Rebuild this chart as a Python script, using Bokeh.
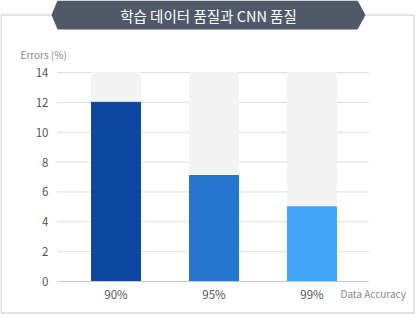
from bokeh.plotting import figure
from bokeh.models import Range1d
from bokeh.core.properties import value
from bokeh.embed import file_html
from bokeh.resources import INLINE

title_text = "학습 데이터 품질과 CNN 품질"
y_axis_title = "Errors (%)"
x_axis_title = "Data Accuracy"
categories = ["90%", "95%", "99%"]
errors = [12, 7.1, 5]
y_max = 14
y_ticks = [0, 2, 4, 6, 8, 10, 12, 14]
bar_colors = ["#0d47a1", "#2576cf", "#42a5f5"]

W, H = 415, 314
FONT = "Noto Sans CJK KR"

# plot area in canvas pixels
PL, PR, PT, PB = 57, 368, 72, 281
xs = [1, 2, 3]
x_lo, x_hi = 0.403, 3.577  # data extent of the plot area
sx = (PR - PL) / (x_hi - x_lo)
sy = (PB - PT) / y_max

p = figure(width=W, height=H, output_backend="svg", toolbar_location=None,
           x_axis_type=None, y_axis_type=None,
           x_range=Range1d(x_lo - PL / sx, x_hi + (W - PR) / sx),
           y_range=Range1d(-(H - PB) / sy, y_max + PT / sy),
           min_border=0)
p.outline_line_color = None
p.background_fill_color = "white"
p.border_fill_color = "white"
p.xgrid.visible = False
p.ygrid.visible = False

# pixel coordinate system for decorations
p.extra_x_ranges = {"px": Range1d(0, W)}
p.extra_y_ranges = {"py": Range1d(H, 0)}

# outer border box
p.quad(left=[0.5], right=[413.5], top=[14.5], bottom=[312.5],
       fill_color=None, line_color="#c8c8c8", line_width=1,
       x_range_name="px", y_range_name="py")

# dotted grid lines
p.segment(x0=[x_lo] * len(y_ticks), x1=[x_hi] * len(y_ticks), y0=y_ticks, y1=y_ticks,
          line_color="#bdbdbd", line_dash="1 1", line_width=1)

# bars
p.vbar(x=xs, top=[y_max] * 3, width=0.5, color="#f4f4f4")
p.vbar(x=xs, top=errors, width=0.5, color=bar_colors)

# x axis baseline
p.segment(x0=[x_lo], x1=[x_hi], y0=[0], y1=[0], line_color="#c8c8c8", line_width=1)

# y tick labels
p.text(x=[x_lo] * len(y_ticks), y=y_ticks, text=[str(t) for t in y_ticks],
       x_offset=-9, text_align="right", text_baseline="middle",
       text_font=value(FONT), text_font_size="11.5px", text_color="#555555")

# x tick labels
p.text(x=xs, y=[0] * 3, text=categories, y_offset=12,
       text_align="center", text_baseline="middle",
       text_font=value(FONT), text_font_size="11.5px", text_color="#555555")

# banner
p.patch(x=[51, 57, 357, 365, 357, 57], y=[14.5, 0, 0, 14.5, 29, 29],
        fill_color="#4f5968", line_color=None,
        x_range_name="px", y_range_name="py")
p.text(x=[208], y=[15], text=[title_text], text_align="center", text_baseline="middle",
       text_font=value(FONT), text_font_size="14.5px", text_color="white",
       x_range_name="px", y_range_name="py")

# axis titles
p.text(x=[20], y=[54], text=[y_axis_title], text_align="left", text_baseline="middle",
       text_font=value(FONT), text_font_size="10px", text_color="#888888",
       x_range_name="px", y_range_name="py")
p.text(x=[340], y=[293], text=[x_axis_title], text_align="left", text_baseline="middle",
       text_font=value(FONT), text_font_size="10px", text_color="#888888",
       x_range_name="px", y_range_name="py")

open("out.html", "w").write(file_html(p, INLINE))
